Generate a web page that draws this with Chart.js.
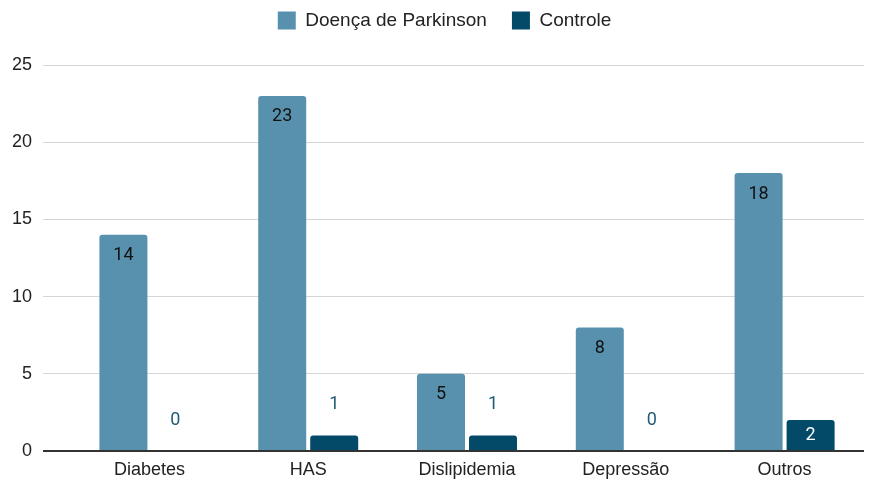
<!DOCTYPE html>
<html>
<head>
<meta charset="utf-8">
<script src="https://cdn.jsdelivr.net/npm/chart.js@4"></script>
<style>
  html, body { margin: 0; padding: 0; background: #fff; }
  #wrap { width: 880px; height: 481px; }
</style>
</head>
<body>
<div id="wrap"><canvas id="chart"></canvas></div>
<script>
const categories = ["Diabetes", "HAS", "Dislipidemia", "Depressão", "Outros"];
const parkinsonValues = [14, 23, 5, 8, 18];
const controleValues = [0, 1, 1, 0, 2];
const yTicks = [0, 5, 10, 15, 20, 25];

const parkColor = "#5891ae";
const ctrlColor = "#034a68";
const axisFont = "'Liberation Sans', Arial, sans-serif";

// labels on the bars, the way the original draws them
const barLabels = {
  id: "barLabels",
  afterDatasetsDraw(chart) {
    const ctx = chart.ctx;
    ctx.save();
    ctx.font = "18px Roboto";
    ctx.textAlign = "center";
    ctx.textBaseline = "middle";
    chart.data.datasets.forEach((ds, di) => {
      const meta = chart.getDatasetMeta(di);
      meta.data.forEach((bar, i) => {
        const h = bar.base - bar.y;
        let y, color;
        if (h >= 40) {
          y = bar.y + 21;
          color = di === 0 ? "#111" : "#fff";
        } else if (h >= 24) {
          y = (bar.y + bar.base) / 2;
          color = di === 0 ? "#111" : "#fff";
        } else {
          y = bar.y - 31;
          color = "#1f5b78";
        }
        ctx.fillStyle = color;
        ctx.fillText(String(ds.data[i]), bar.x, y);
      });
    });
    ctx.restore();
  },
};

// extra room under the legend, legend nudged a bit right
const legendGap = {
  id: "legendGap",
  beforeInit(chart) {
    const fit = chart.legend.fit;
    chart.legend.fit = function () {
      fit.bind(chart.legend)();
      this.height += 25;
    };
  },
  afterLayout(chart) {
    chart.legend.left += 12;
    chart.legend.right += 12;
  },
};

const chartData = {
  labels: categories,
  datasets: [
    {
      label: "Doença de Parkinson",
      data: parkinsonValues,
      backgroundColor: parkColor,
      borderRadius: { topLeft: 3, topRight: 3 },
      borderSkipped: "bottom",
      categoryPercentage: 0.655,
      barPercentage: 0.923,
    },
    {
      label: "Controle",
      data: controleValues,
      backgroundColor: ctrlColor,
      borderRadius: { topLeft: 3, topRight: 3 },
      borderSkipped: "bottom",
      categoryPercentage: 0.655,
      barPercentage: 0.923,
    },
  ],
};

const chartConfig = {
  type: "bar",
  data: chartData,
  plugins: [barLabels, legendGap],
  options: {
    responsive: true,
    maintainAspectRatio: false,
    animation: false,
    layout: {
      padding: { left: 1, right: 16, top: -14, bottom: 0 },
    },
    plugins: {
      tooltip: { enabled: false },
      legend: {
        position: "top",
        labels: {
          boxWidth: 18,
          boxHeight: 18,
          padding: 25,
          color: "#222",
          font: { family: axisFont, size: 19 },
        },
      },
    },
    scales: {
      x: {
        grid: { display: false, drawTicks: false, tickLength: 0 },
        border: { display: false },
        afterFit: (axis) => {
          axis.height = 30;
        },
        ticks: {
          color: "#222",
          padding: 8,
          font: { family: axisFont, size: 18 },
        },
      },
      y: {
        min: 0,
        max: 25,
        afterBuildTicks: (axis) => {
          axis.ticks = yTicks.map((v) => ({ value: v }));
        },
        border: { display: false },
        grid: {
          color: (c) => (c.tick && c.tick.value === 0 ? "#333" : "#d6d6d6"),
          tickColor: (c) => (c.tick && c.tick.value === 0 ? "#333" : "#d6d6d6"),
          lineWidth: (c) => (c.tick && c.tick.value === 0 ? 2 : 1),
          tickLength: 27,
        },
        ticks: {
          color: "#222",
          padding: 11,
          font: { family: axisFont, size: 18 },
        },
      },
    },
  },
};

const chart = new Chart(document.getElementById("chart"), chartConfig);
</script>
</body>
</html>
